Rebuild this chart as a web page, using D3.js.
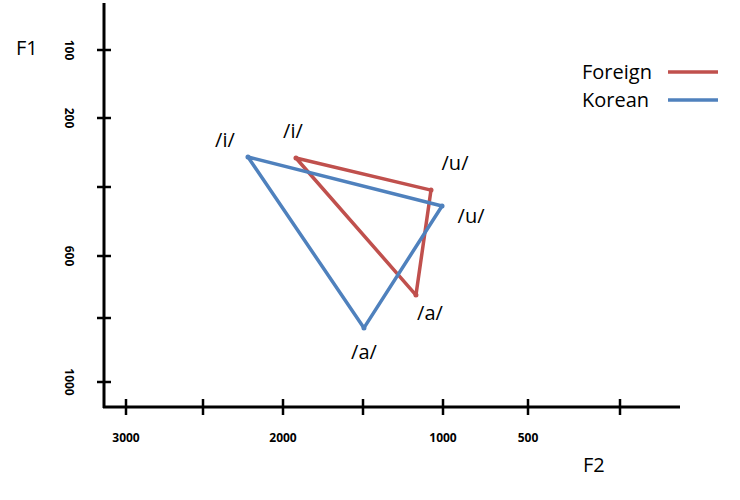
<!DOCTYPE html>
<html><head><meta charset="utf-8">
<script src="https://cdn.jsdelivr.net/npm/d3@7"></script>
<style>body{margin:0;background:#fff}text{font-family:"Open Sans","DejaVu Sans",sans-serif}</style>
</head><body><svg id="svg" width="740" height="500"></svg>
<script>
// F2 / F1 values (Hz)
const vowels = ['/i/', '/u/', '/a/'];
const foreignF2 = [1919, 1075, 1169];
const foreignF1 = [316, 409, 726];
const koreanF2 = [2219, 1006, 1494];
const koreanF1 = [313, 455, 831];
const xTicks = [3000, 2500, 2000, 1500, 1000, 500, 0];
const xTickLabels = ['3000', '', '2000', '', '1000', '500', ''];
const yTicks = [100, 200, 400, 600, 800, 1000];
const yTickLabels = ['100', '200', '', '600', '', '1000'];

const svg = d3.select('#svg');
const red = '#c0504d', blue = '#4f81bd';

// axis spacing in the original is uneven, so piecewise scales
const x = d3.scaleLinear().domain(xTicks).range([126, 203, 283, 363, 443, 528, 620]);
const y = d3.scaleLinear().domain(yTicks).range([50, 118, 187, 256, 318, 382]);

// axes lines
svg.append('line').attr('x1', 104).attr('x2', 104).attr('y1', 3).attr('y2', 408)
	.attr('stroke', '#000').attr('stroke-width', 3);
svg.append('line').attr('x1', 103).attr('x2', 680).attr('y1', 407).attr('y2', 407)
	.attr('stroke', '#000').attr('stroke-width', 3);

svg.selectAll('line.xt').data(xTicks).enter().append('line')
	.attr('x1', d => x(d)).attr('x2', d => x(d)).attr('y1', 399).attr('y2', 415)
	.attr('stroke', '#000').attr('stroke-width', 2.5);
svg.selectAll('text.xl').data(xTicks).enter().append('text')
	.attr('x', d => x(d)).attr('y', 442).attr('text-anchor', 'middle')
	.attr('font-size', 12).attr('font-weight', 'bold')
	.text((d, i) => xTickLabels[i]);

svg.selectAll('line.yt').data(yTicks).enter().append('line')
	.attr('x1', 97).attr('x2', 111).attr('y1', d => y(d)).attr('y2', d => y(d))
	.attr('stroke', '#000').attr('stroke-width', 2.5);
svg.selectAll('text.yl').data(yTicks).enter().append('text')
	.attr('transform', d => `translate(65,${y(d)}) rotate(90)`)
	.attr('text-anchor', 'middle').attr('font-size', 12).attr('font-weight', 'bold')
	.text((d, i) => yTickLabels[i]);

svg.append('text').attr('x', 16).attr('y', 55).attr('font-size', 20).text('F1');
svg.append('text').attr('x', 583).attr('y', 472).attr('font-size', 20).text('F2');

// triangles
const line = d3.line().x(d => x(d[0])).y(d => y(d[1]));
function tri(f2, f1, color, offsets) {
	const pts = f2.map((d, i) => [d, f1[i]]);
	svg.append('path').attr('d', line(pts) + 'Z').attr('fill', 'none')
		.attr('stroke', color).attr('stroke-width', 3.5).attr('stroke-linejoin', 'round');
	svg.selectAll(null).data(pts).enter().append('circle')
		.attr('cx', d => x(d[0])).attr('cy', d => y(d[1])).attr('r', 2.5).attr('fill', color);
	svg.selectAll(null).data(pts).enter().append('text')
		.attr('x', (d, i) => x(d[0]) + offsets[i][0]).attr('y', (d, i) => y(d[1]) + offsets[i][1])
		.attr('font-size', 20).attr('text-anchor', 'middle')
		.text((d, i) => vowels[i]);
}
tri(foreignF2, foreignF1, red, [[-3, -20], [24, -20], [14, 25]]);
tri(koreanF2, koreanF1, blue, [[-23, -10], [29, 17], [0, 31]]);

// legend
[['Foreign', red, 72], ['Korean', blue, 100]].forEach(([name, color, ly]) => {
	svg.append('text').attr('x', 582).attr('y', ly + 7).attr('font-size', 20).text(name);
	svg.append('line').attr('x1', 668).attr('x2', 718).attr('y1', ly).attr('y2', ly)
		.attr('stroke', color).attr('stroke-width', 3.5);
});
</script></body></html>
